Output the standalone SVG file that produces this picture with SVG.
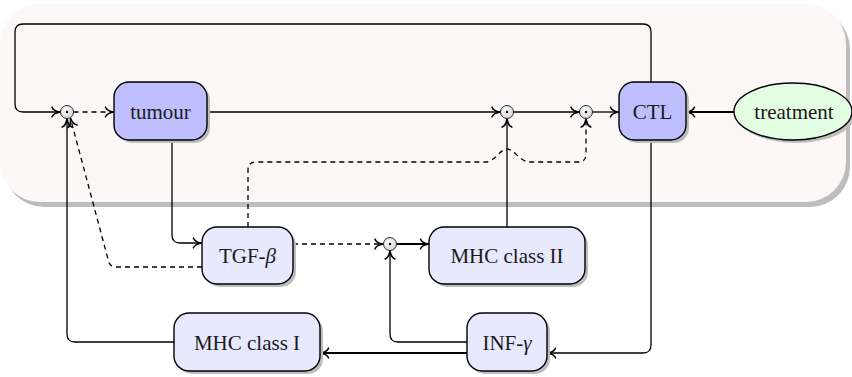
<svg xmlns="http://www.w3.org/2000/svg" width="852" height="377" viewBox="0 0 852 377">
<style>
.bg{fill:#fdf7f7}
.sh{fill:#bdbdbd}
.n{stroke:#000;stroke-width:1.4}
.up{fill:#bfbfff}
.lo{fill:#e8e8ff}
.tr{fill:#e2fde2}
.t{font-family:'Liberation Serif','DejaVu Serif',serif;font-size:21px;fill:#1a1a1a;text-anchor:middle}
.c{fill:none;stroke:#000;stroke-width:1.3}
.k{stroke-width:2.2}
.d{stroke-dasharray:5 4}
.od{fill:url(#og);stroke:#000;stroke-width:0.8}
</style>
<defs>
<radialGradient id="og" cx="0.4" cy="0.4" r="0.7">
<stop offset="0" stop-color="#ffffff"/>
<stop offset="1" stop-color="#cfcfcf"/>
</radialGradient>
<marker id="a" markerUnits="userSpaceOnUse" markerWidth="16" markerHeight="16" viewBox="-12 -8 16 16" refX="0" refY="0" orient="auto" overflow="visible">
<path d="M-8,-4.8 C-6.8,-2 -3,-0.5 0,0 C-3,0.5 -6.8,2 -8,4.8" fill="none" stroke="#000" stroke-width="1.6" stroke-linecap="round" stroke-linejoin="round" stroke-dasharray="none"/>
</marker>
</defs>

<g id="background">
<rect x="4" y="9" width="846" height="198" rx="40" class="sh"/>
<rect x="0" y="4" width="846" height="198" rx="40" class="bg"/>
</g>

<g id="connectors">
<path class="c" d="M651,82 L651,32 Q651,24 643,24 L23,24 Q15,24 15,32 L15,104 Q15,112 23,112 L60,112" marker-end="url(#a)"/>
<path class="c d" d="M73.5,112 L113.5,112" marker-end="url(#a)"/>
<path class="c" d="M207,112 L500,112" marker-end="url(#a)"/>
<path class="c" d="M513.5,112 L579,112" marker-end="url(#a)"/>
<path class="c" d="M592.5,112 L618.5,112" marker-end="url(#a)"/>
<path class="c k" d="M734,112 L686.5,112" marker-end="url(#a)"/>
<path class="c" d="M651,140 L651,345 Q651,353 643,353 L547.5,353" marker-end="url(#a)"/>
<path class="c k" d="M467,353 L320.5,353" marker-end="url(#a)"/>
<path class="c" d="M467,342 L398,342 Q390,342 390,334 L390,251" marker-end="url(#a)"/>
<path class="c" d="M174,342 L75,342 Q67,342 67,334 L67,119" marker-end="url(#a)"/>
<path class="c" d="M172,140 L172,235 Q172,243 180,243 L201.5,243" marker-end="url(#a)"/>
<path class="c d" d="M293,244 L383,244" marker-end="url(#a)"/>
<path class="c k" d="M396.5,244 L428.5,244" marker-end="url(#a)"/>
<path class="c" d="M507,227 L507,119" marker-end="url(#a)"/>
<path class="c d" d="M202,267 L116,267 Q110,267 108.5,261 L70.5,118.5" marker-end="url(#a)"/>
<path class="c d" d="M248,227 L248,170 Q248,162 256,162 L485,162 C495,162 500,149 507,149 C514,149 520,162 530,162 L578,162 Q586,162 586,154 L586,119" marker-end="url(#a)"/>
</g>

<g id="odot1"><circle cx="67" cy="112" r="6.5" class="od"/><circle cx="67" cy="112" r="1.2"/></g>
<g id="odot2"><circle cx="507" cy="112" r="6.5" class="od"/><circle cx="507" cy="112" r="1.2"/></g>
<g id="odot3"><circle cx="586" cy="112" r="6.5" class="od"/><circle cx="586" cy="112" r="1.2"/></g>
<g id="odot4"><circle cx="390" cy="244" r="6.5" class="od"/><circle cx="390" cy="244" r="1.2"/></g>

<g id="tumour">
<rect x="117" y="85" width="93" height="58" rx="15" class="sh"/>
<rect x="114" y="82" width="93" height="58" rx="15" class="n up"/>
<text x="160.5" y="118.5" class="t" font-family="Liberation Serif, serif">tumour</text>
</g>

<g id="CTL">
<rect x="622" y="85" width="67" height="58" rx="15" class="sh"/>
<rect x="619" y="82" width="67" height="58" rx="15" class="n up"/>
<text x="652.5" y="118.5" class="t" font-family="Liberation Serif, serif">CTL</text>
</g>

<g id="treatment">
<ellipse cx="796" cy="114.5" rx="59" ry="28.5" class="sh"/>
<ellipse cx="793" cy="111.5" rx="59" ry="28.5" class="n tr"/>
<text x="794" y="118.5" class="t" font-family="Liberation Serif, serif">treatment</text>
</g>

<g id="TGF">
<rect x="205" y="230" width="91" height="57" rx="15" class="sh"/>
<rect x="202" y="227" width="91" height="57" rx="15" class="n lo"/>
<text x="247.5" y="263" class="t" font-family="Liberation Serif, serif">TGF-<tspan font-style="italic">β</tspan></text>
</g>

<g id="MHCII">
<rect x="432" y="230" width="156" height="57" rx="15" class="sh"/>
<rect x="429" y="227" width="156" height="57" rx="15" class="n lo"/>
<text x="507" y="263" class="t" font-family="Liberation Serif, serif">MHC class II</text>
</g>

<g id="MHCI">
<rect x="177" y="316" width="146" height="58" rx="15" class="sh"/>
<rect x="174" y="313" width="146" height="58" rx="15" class="n lo"/>
<text x="247" y="349.5" class="t" font-family="Liberation Serif, serif">MHC class I</text>
</g>

<g id="INF">
<rect x="470" y="316" width="80" height="58" rx="15" class="sh"/>
<rect x="467" y="313" width="80" height="58" rx="15" class="n lo"/>
<text x="507" y="349.5" class="t" font-family="Liberation Serif, serif">INF-<tspan font-style="italic">γ</tspan></text>
</g>
</svg>
